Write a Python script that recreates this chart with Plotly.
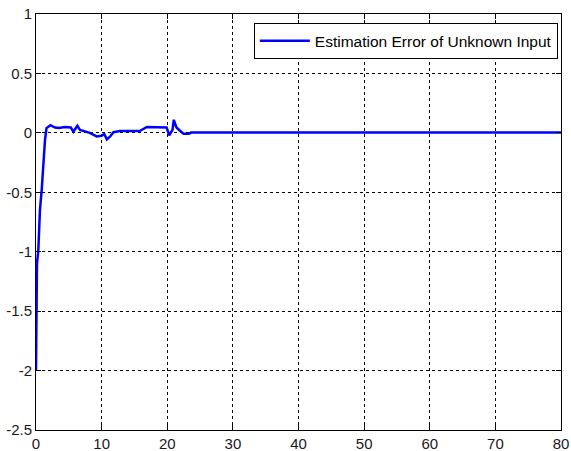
import plotly.graph_objects as go

# Estimation error of the unknown input over time
time_s = [0.0, 0.1, 0.15, 0.35, 0.6, 0.87, 1.1, 1.37, 1.6, 2.2, 2.9, 3.5,
          4.4, 5.3, 5.7, 6.3, 6.7, 7.5, 8.2, 9.25, 10.0, 10.4, 10.8, 11.3, 11.8,
          12.8, 15.8, 16.9, 19.9, 20.3, 20.8, 21.0, 21.4, 22.2, 22.5, 23.3,
          23.6, 80.0]
error = [-2.0, -1.6, -1.1, -0.99, -0.65, -0.48, -0.23, -0.06, 0.04, 0.065,
         0.045, 0.04, 0.05, 0.045, 0.01, 0.06, 0.025, 0.01, 0.0, -0.03, -0.025,
         -0.01, -0.055, -0.03, 0.005, 0.015, 0.015, 0.05, 0.045, -0.02, 0.025,
         0.11, 0.045, 0.005, -0.008, -0.008, 0.002, 0.002]

x_ticks = [0, 10, 20, 30, 40, 50, 60, 70, 80]
y_ticks = [-2.5, -2, -1.5, -1, -0.5, 0, 0.5, 1]
y_tick_text = ["-2.5", "-2", "-1.5", "-1", "-0.5", "0", "0.5", "1"]

FONT = "Liberation Sans, Arial, sans-serif"

fig = go.Figure()
fig.add_trace(go.Scatter(
    x=time_s, y=error, mode="lines",
    name="Estimation Error of Unknown Input",
    line=dict(color="#0000FF", width=2.5),
))

axis_style = dict(
    showline=True, linecolor="black", linewidth=1, mirror="ticks",
    ticks="inside", ticklen=5, tickcolor="black",
    showgrid=True, gridcolor="black", gridwidth=1, griddash="3px,3px",
    zeroline=False, automargin=False,
    tickfont=dict(family=FONT, size=15, color="#1a1a1a"),
)

fig.update_xaxes(range=[0, 80], tickvals=x_ticks, ticklabelstandoff=0, **axis_style)
fig.update_yaxes(range=[-2.5, 1], tickvals=y_ticks, ticktext=y_tick_text,
                 ticklabelstandoff=0, **axis_style)

fig.update_layout(
    width=571, height=451,
    margin=dict(l=36, r=10, t=14, b=21),
    paper_bgcolor="white", plot_bgcolor="white",
    showlegend=True,
    legend=dict(
        x=0.994, y=0.978, xanchor="right", yanchor="top",
        bgcolor="white", bordercolor="black", borderwidth=1,
        itemwidth=50,
        font=dict(family=FONT, size=15.5, color="black"),
    ),
)

fig.write_html("out.html")
